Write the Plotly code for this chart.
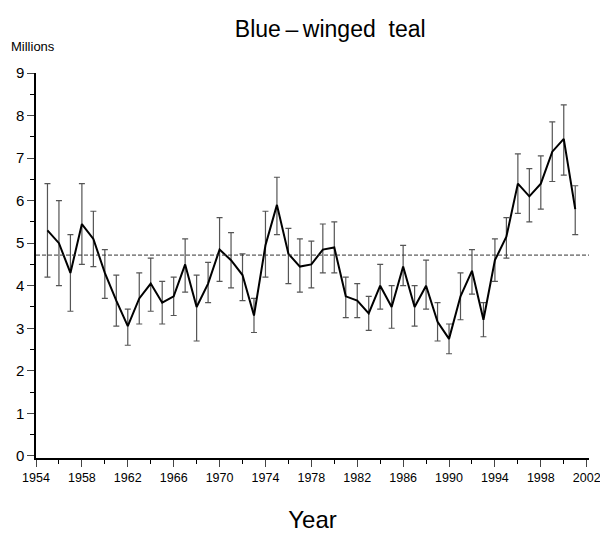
import plotly.graph_objects as go

years = list(range(1955, 2002))
values = [5.3, 5.0, 4.3, 5.45, 5.1, 4.3, 3.65, 3.05, 3.7, 4.05,
          3.6, 3.75, 4.5, 3.5, 4.05, 4.85, 4.6, 4.25, 3.3, 4.95,
          5.9, 4.75, 4.45, 4.5, 4.85, 4.9, 3.75, 3.65, 3.35, 4.0,
          3.5, 4.45, 3.5, 4.0, 3.15, 2.75, 3.75, 4.35, 3.2, 4.6,
          5.15, 6.4, 6.1, 6.4, 7.15, 7.45, 5.8]
upper = [6.4, 6.0, 5.2, 6.4, 5.75, 4.85, 4.25, 3.45, 4.3, 4.65,
         4.1, 4.2, 5.1, 4.25, 4.55, 5.6, 5.25, 4.75, 3.7, 5.75,
         6.55, 5.35, 5.1, 5.05, 5.45, 5.5, 4.2, 4.05, 3.75, 4.5,
         4.0, 4.95, 4.0, 4.6, 3.6, 3.1, 4.3, 4.85, 3.6, 5.1,
         5.6, 7.1, 6.75, 7.05, 7.85, 8.25, 6.35]
lower = [4.2, 4.0, 3.4, 4.5, 4.45, 3.7, 3.05, 2.6, 3.1, 3.4,
         3.1, 3.3, 3.85, 2.7, 3.6, 4.1, 3.95, 3.65, 2.9, 4.2,
         5.2, 4.05, 3.85, 3.95, 4.3, 4.3, 3.25, 3.25, 2.95, 3.45,
         3.0, 4.0, 3.05, 3.45, 2.7, 2.4, 3.2, 3.8, 2.8, 4.1,
         4.65, 5.7, 5.5, 5.8, 6.45, 6.6, 5.2]
long_term_mean = 4.72

font = "Liberation Sans Narrow, Liberation Sans, Arial"

fig = go.Figure()

fig.add_trace(go.Scatter(
    x=years, y=values, mode="lines",
    line=dict(color="black", width=2),
    error_y=dict(type="data", symmetric=False,
                 array=[u - v for u, v in zip(upper, values)],
                 arrayminus=[v - l for v, l in zip(values, lower)],
                 color="#555555", thickness=1.2, width=3),
    showlegend=False,
))

fig.add_hline(y=long_term_mean, line=dict(color="#333333", width=1, dash="4px,2px"))

fig.update_layout(
    width=608, height=535,
    margin=dict(l=28, r=27, t=65, b=85),
    paper_bgcolor="white", plot_bgcolor="white",
    font=dict(family=font, color="black", size=14),
    title=dict(text="Blue\u2009\u2013\u2009winged  teal", x=0.53, y=0.975,
               xanchor="center", font=dict(size=23, family=font)),
    annotations=[dict(text="Millions", xref="paper", yref="paper", x=-0.048, y=1.045,
                      xanchor="left", yanchor="bottom", showarrow=False,
                      font=dict(size=13))],
)

fig.update_xaxes(
    range=[1954, 2002.2], tickmode="linear", tick0=1954, dtick=4, automargin=False,
    ticks="outside", ticklen=7, showline=True, linecolor="black", linewidth=1.5,
    showgrid=False, zeroline=False, tickfont=dict(size=12.5),
    minor=dict(ticks="outside", ticklen=4, dtick=2, tick0=1954, tickcolor="black"),
    title=dict(text="Year", font=dict(size=24), standoff=27),
)
fig.update_yaxes(
    range=[-0.05, 9.0], tickmode="linear", tick0=0, dtick=1, automargin=False,
    ticks="outside", ticklen=7, showline=True, linecolor="black", linewidth=1.5,
    showgrid=False, zeroline=False, tickfont=dict(size=15),
    minor=dict(ticks="outside", ticklen=4, dtick=0.5, tick0=0, tickcolor="black"),
)

fig.write_html("out.html")
